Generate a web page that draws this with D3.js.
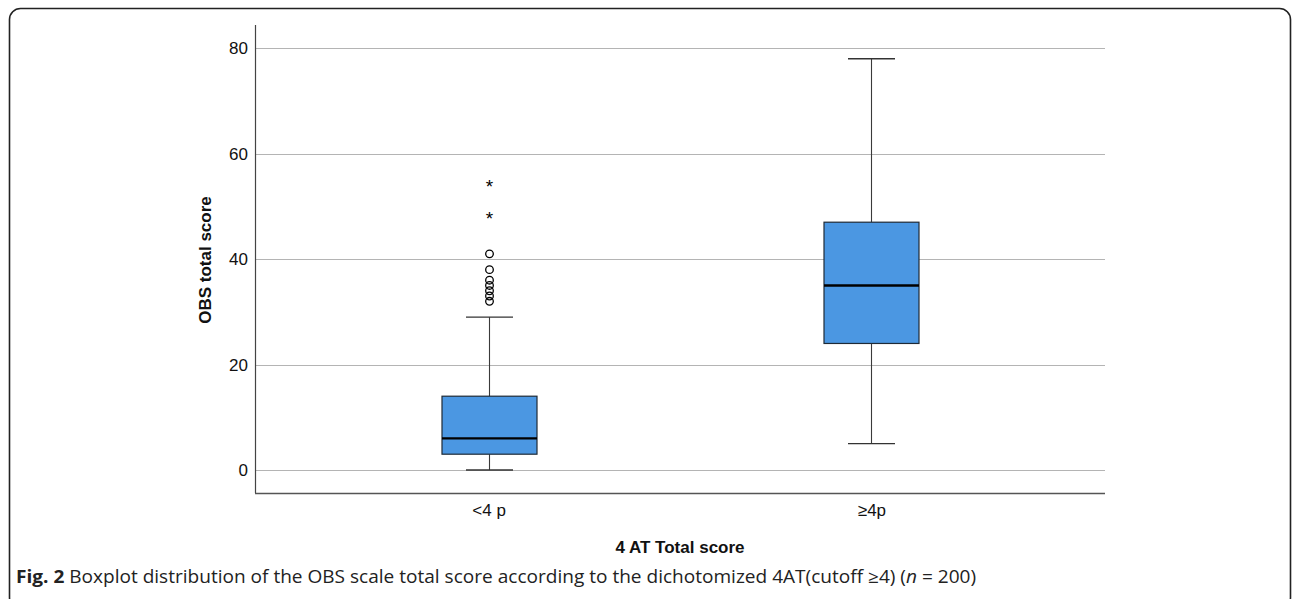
<!DOCTYPE html>
<html><head><meta charset="utf-8">
<script src="https://cdn.jsdelivr.net/npm/d3@7"></script>
<style>body{margin:0;background:#fff}svg{display:block}</style>
</head><body>
<svg id="c" width="1292" height="599"></svg>
<script>
const categories = ["<4 p", "≥4p"];
const whiskerLow = [0, 5];
const q1 = [3, 24];
const median = [6, 35];
const q3 = [14, 47];
const whiskerHigh = [29, 78];
const outliers = [[41, 38, 36, 35, 34, 33, 32], []];
const extremes = [[54, 48], []];
const yTicks = [0, 20, 40, 60, 80];

const svg = d3.select("#c");
const font = "Liberation Sans, Arial, sans-serif";

svg.append("rect").attr("x", 9.5).attr("y", 8.5).attr("width", 1281).attr("height", 600)
  .attr("rx", 11).attr("fill", "none").attr("stroke", "#222").attr("stroke-width", 1.6);

const L = 255, R = 1105, T = 25, B = 493;
const y = d3.scaleLinear().domain([-4.36, 84.4]).range([B, T]);
const x = d3.scalePoint().domain(categories).range([L, R]).padding(0.61);

// gridlines
svg.append("g").selectAll("line").data(yTicks).join("line")
  .attr("x1", L).attr("x2", R).attr("y1", d => Math.round(y(d)) + 0.5).attr("y2", d => Math.round(y(d)) + 0.5)
  .attr("stroke", "#b4b4b4").attr("stroke-width", 1);

// y axis
const ya = svg.append("g").attr("transform", `translate(${L},0)`)
  .call(d3.axisLeft(y).tickValues(yTicks).tickSize(0).tickPadding(7));
ya.attr("font-size", 17).attr("font-family", font);
ya.select(".domain").attr("stroke", "#444").attr("stroke-width", 1.2).attr("d", `M0.5,${T}V${B}`);
ya.selectAll("text").attr("font-family", font).attr("font-size", 17).attr("fill", "#111");

// x axis
const xa = svg.append("g").attr("transform", `translate(0,${B})`)
  .call(d3.axisBottom(x).tickSize(0).tickPadding(11));
xa.attr("font-size", 17).attr("font-family", font);
xa.select(".domain").attr("stroke", "#555").attr("stroke-width", 1.6).attr("d", `M${L},0.5H${R}`);
xa.selectAll("text").attr("font-family", font).attr("font-size", 17).attr("fill", "#111");

const bw = 95, cw = 47;
const g = svg.append("g");
categories.forEach((c, i) => {
  const cx = Math.round(x(c)) + 0.5;
  g.append("line").attr("x1", cx).attr("x2", cx).attr("y1", y(whiskerHigh[i])).attr("y2", y(q3[i]))
    .attr("stroke", "#3a3a3a").attr("stroke-width", 1.1);
  g.append("line").attr("x1", cx).attr("x2", cx).attr("y1", y(q1[i])).attr("y2", y(whiskerLow[i]))
    .attr("stroke", "#3a3a3a").attr("stroke-width", 1.1);
  [whiskerHigh[i], whiskerLow[i]].forEach(v => {
    g.append("line").attr("x1", cx - cw / 2).attr("x2", cx + cw / 2).attr("y1", y(v)).attr("y2", y(v))
      .attr("stroke", "#333").attr("stroke-width", 1.3);
  });
  g.append("rect").attr("x", cx - bw / 2).attr("y", y(q3[i])).attr("width", bw)
    .attr("height", y(q1[i]) - y(q3[i])).attr("fill", "#4b97e2").attr("stroke", "#1e2a36").attr("stroke-width", 1.2);
  g.append("line").attr("x1", cx - bw / 2).attr("x2", cx + bw / 2).attr("y1", y(median[i])).attr("y2", y(median[i]))
    .attr("stroke", "#000").attr("stroke-width", 2.4);
  g.selectAll(null).data(outliers[i]).join("circle")
    .attr("cx", cx).attr("cy", d => y(d)).attr("r", 3.8)
    .attr("fill", "none").attr("stroke", "#000").attr("stroke-width", 1.3);
  g.selectAll(null).data(extremes[i]).join("text")
    .attr("x", cx).attr("y", d => y(d) + 8).attr("text-anchor", "middle")
    .attr("font-family", font).attr("font-size", 19).attr("fill", "#000").text("*");
});

// axis titles
svg.append("text").attr("transform", `translate(211,${(T + B) / 2 + 1}) rotate(-90)`)
  .attr("text-anchor", "middle").attr("font-family", font).attr("font-weight", "bold")
  .attr("font-size", 17).attr("fill", "#111").text("OBS total score");
svg.append("text").attr("x", (L + R) / 2).attr("y", 553).attr("text-anchor", "middle")
  .attr("font-family", font).attr("font-weight", "bold").attr("font-size", 17).attr("fill", "#111")
  .text("4 AT Total score");

// caption
const capG = svg.append("g");
const cap = capG.append("text").attr("x", 0).attr("y", 0)
  .attr("font-family", "Open Sans, Noto Sans, sans-serif").attr("font-size", 17.5).attr("fill", "#222");
cap.append("tspan").attr("font-weight", "bold").text("Fig. 2");
cap.append("tspan").text(" Boxplot distribution of the OBS scale total score according to the dichotomized 4AT(cutoff ≥4) (");
cap.append("tspan").attr("font-style", "italic").text("n");
cap.append("tspan").text(" = 200)");
const w = cap.node().getComputedTextLength();
const target = 977 - 16;
capG.attr("transform", `translate(16,583) scale(${target / w},1)`);
</script>
</body></html>
